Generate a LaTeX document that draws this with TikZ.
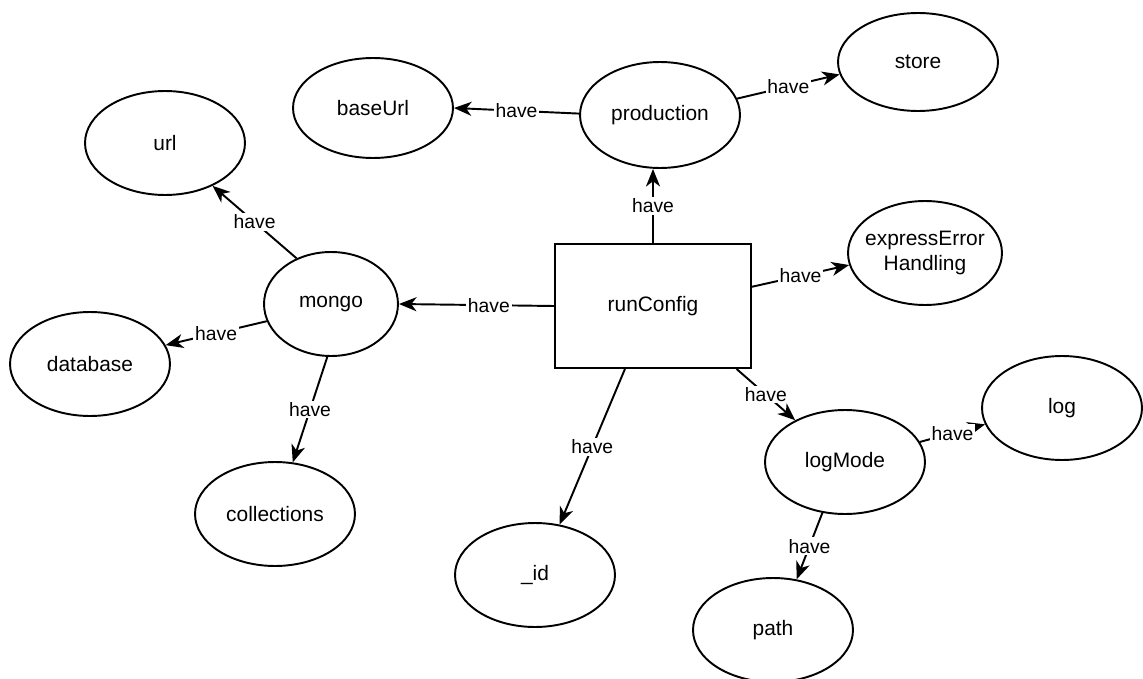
\documentclass[tikz,border=0pt]{standalone}
\usepackage{fontspec}
\setmainfont{Liberation Sans}
\usetikzlibrary{shapes.geometric,arrows.meta}
\begin{document}
\begin{tikzpicture}[x=0.02cm,y=-0.02cm,
  oval/.style={ellipse,draw,line width=1.1pt,inner sep=0pt,
    minimum width=3.2cm,minimum height=2.08cm,
    font=\fontsize{11.9}{14}\selectfont,align=center},
  box/.style={rectangle,draw,line width=1.1pt,inner sep=0pt,
    minimum width=3.92cm,minimum height=2.48cm,
    font=\fontsize{11.9}{14}\selectfont},
  rel/.style={line width=1.1pt,-{Stealth[length=10pt,width=8pt,inset=3pt]}},
  lbl/.style={fill=white,inner sep=1pt,font=\fontsize{11}{12}\selectfont}]
  \fill[white] (0,0) rectangle (1143,679);
  \useasboundingbox (0,0) rectangle (1143,679);

  % central configuration object
  \node[box] (rc) at (653,306) {runConfig};

  % direct children
  \node[oval,minimum height=2.12cm] (prod) at (660,115) {production};
  \node[oval,minimum width=2.68cm] (mongo) at (331,304) {mongo};
  \node[oval,minimum width=3.08cm,inner xsep=-8pt] (eeh) at (925,253) {expressError\\Handling};
  \node[oval] (logm) at (845,462) {logMode};
  \node[oval] (id) at (535,575) {\_id};

  % grandchildren
  \node[oval,minimum height=1.96cm] (store) at (918,62) {store};
  \node[oval,minimum height=2.0cm] (base) at (373,108) {baseUrl};
  \node[oval] (url) at (165,143) {url};
  \node[oval] (db) at (90,364) {database};
  \node[oval] (coll) at (275,514) {collections};
  \node[oval] (log) at (1062,408) {log};
  \node[oval] (path) at (773,630) {path};

  % relations
  \draw[rel] (rc.north) -- node[lbl]{have} (rc.north |- prod.south);
  \draw[rel] (prod.179) -- node[lbl]{have} (base.0);
  \draw[rel] (prod.12) -- node[lbl]{have} (store.189);
  \draw[rel] (rc.west) -- node[lbl,pos=0.42]{have} (mongo.east);
  \draw[rel] (mongo.127) -- node[lbl]{have} (url.-42);
  \draw[rel] (mongo.195) -- node[lbl]{have} (db.14);
  \draw[rel] (mongo.266) -- node[lbl]{have} (coll.71);
  \draw[rel] (rc.11) -- node[lbl]{have} (eeh.189);
  \draw[rel] (rc.246.5) -- node[lbl]{have} (id.64);
  \draw[rel] (rc.-37.8) -- node[lbl]{have} (logm.140);
  \draw[rel] (logm.15) -- node[lbl]{have} (log.192);
  \draw[rel] (logm.246) -- node[lbl]{have} (path.65);
\end{tikzpicture}
\end{document}
